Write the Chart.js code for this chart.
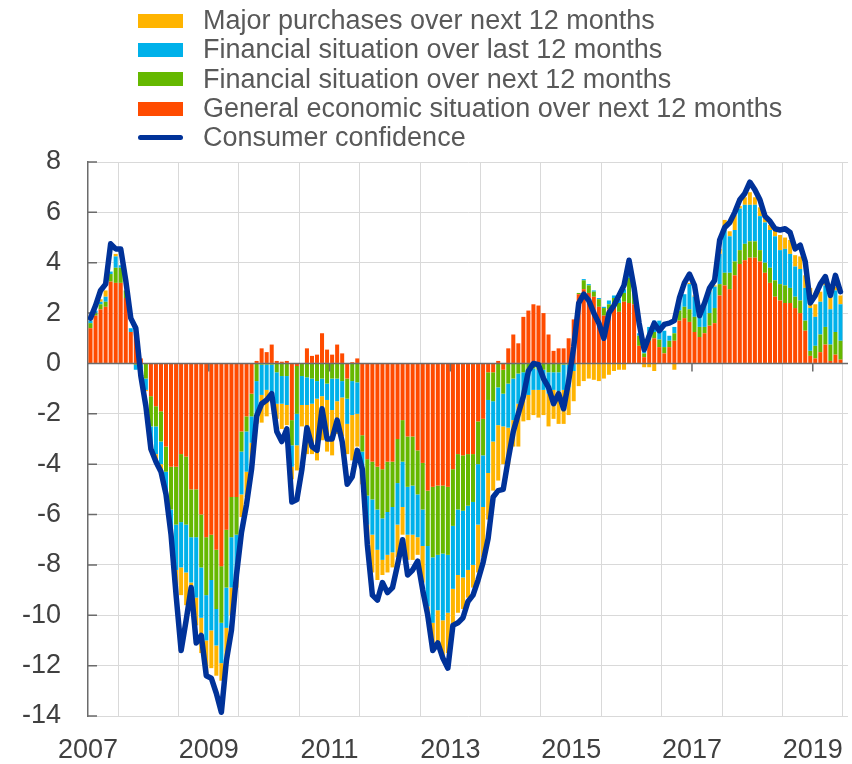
<!DOCTYPE html>
<html>
<head>
<meta charset="utf-8">
<script src="https://cdn.jsdelivr.net/npm/chart.js@4.4.1/dist/chart.umd.min.js"></script>
<style>
  html, body { margin: 0; padding: 0; background: #fff; }
  #wrap { position: relative; width: 852px; height: 764px; }
  #legend {
    position: absolute; left: 138px; top: 6px;
    font-family: "Liberation Sans", Arial, sans-serif; font-size: 27px; color: #595959;
  }
  .item { display: flex; align-items: center; height: 29.3px; white-space: nowrap; }
  .swatch { width: 45px; height: 14px; margin-right: 20px; flex: none; }
  .swatch.line { height: 5px; border-radius: 3px; }
</style>
</head>
<body>
<div id="wrap">
  <canvas id="chart" width="852" height="764"></canvas>
  <div id="legend"></div>
</div>
<script>
// monthly data, Jan 2007 - Jun 2019 (one row per year)
const firstYear = 2007;
const yearLabels = ["2007", "2009", "2011", "2013", "2015", "2017", "2019"];
const yTicks = [-14, -12, -10, -8, -6, -4, -2, 0, 2, 4, 6, 8];

const generalEcon = [
  1.4, 1.9, 2.15, 2.25, 3.25, 3.2, 3.2, 2.6, 1.25, 1.3, 0.2, 0.0,
  -1.3, -1.7, -1.9, -3.3, -4.1, -4.1, -3.6, -3.7, -5.0, -5.0, -6.0, -6.9,
  -6.8, -7.4, -8.05, -6.6, -5.3, -5.3, -2.7, -2.1, -1.2, 0.1, 0.6, 0.45,
  0.75, 0.1, 0.07, 0.1, -2.25, -0.1, 0.0, 0.6, 0.3, 0.35, 1.2, 0.55,
  0.35, 0.75, 0.4, -0.6, 0.05, 0.2, -2.85, -3.8, -3.9, -4.1, -4.2, -3.9,
  -3.9, -3.0, -2.25, -2.9, -2.9, -3.45, -3.95, -5.05, -4.9, -4.85, -4.85, -4.9,
  -4.2, -3.6, -3.65, -3.6, -3.6, -2.3, -2.2, -0.35, -0.35, 0.1, -0.25, 0.6,
  1.15, 0.8, 1.85, 2.1, 2.35, 2.3, 2.0, 1.15, 0.5, 0.6, 0.6, 1.0,
  1.75, 2.75, 2.95, 2.8, 2.65, 2.25, 1.9, 2.15, 2.25, 2.05, 2.45, 2.4,
  2.35, 0.7, 0.25, 0.9, 1.0, 0.65, 0.4, 0.65, 0.9, 1.7, 1.8, 1.65,
  1.25, 1.05, 1.2, 1.5, 1.6, 2.7, 3.1, 2.95, 3.5, 3.95, 4.1, 4.2,
  4.2, 4.05, 3.6, 3.2, 2.65, 2.5, 2.4, 2.4, 2.2, 2.0, 1.3, 0.3,
  0.2, 0.45, 0.75, 0.1, 0.35, 0.15
];

const finNext = [
  0.2, 0.1, 0.2, 0.2, 0.3, 0.6, 0.6, 0.3, 0.0, -0.05, -0.05, -0.6,
  -1.2, -0.8, -1.2, -1.0, -1.7, -2.3, -2.7, -2.7, -1.9, -1.9, -2.1, -2.3,
  -1.8, -2.35, -2.25, -2.3, -1.6, -1.5, -0.8, -0.6, -0.9, -0.7, -0.05, -0.05,
  -0.05, -0.35, -0.5, -0.5, -1.0, -1.9, -0.5, -0.55, -0.6, -0.7, -0.6, -0.8,
  -0.6, -0.6, -0.7, -0.8, -0.7, -0.75, -0.65, -1.45, -1.5, -1.7, -1.95, -2.0,
  -1.8, -1.75, -1.65, -2.0, -1.95, -1.75, -1.85, -2.2, -2.8, -2.75, -2.7, -2.7,
  -2.25, -2.2, -2.2, -2.05, -1.9, -1.7, -1.45, -1.1, -1.15, -0.95, -0.95, -0.8,
  -0.6, -0.4, -0.35, -0.25, -0.2, -0.25, -0.25, -0.35, -0.35, -0.35, -0.05, -0.05,
  0.0, 0.05, 0.35, 0.3, 0.2, 0.3, 0.3, 0.2, 0.35, 0.35, 0.35, 1.0,
  0.6, 0.4, 0.15, 0.25, 0.25, 0.3, 0.25, 0.25, 0.3, 0.4, 0.45, 0.5,
  0.6, 0.4, 0.25, 0.5, 0.6, 0.45, 0.5, 0.65, 0.55, 0.55, 0.65, 0.65,
  0.65, 0.45, 0.4, 0.6, 0.65, 0.65, 0.7, 0.6, 0.45, 0.5, 0.4, 0.2,
  0.5, 0.7, 0.7, 0.65, 0.9, 0.75
];

const finLast = [
  0.1, 0.1, 0.1, 0.2, 0.1, 0.45, 0.1, 0.0, 0.15, -0.2, -0.15, -0.45,
  -0.8, -1.1, -0.9, -0.8, -0.9, -1.8, -1.8, -1.9, -1.8, -2.4, -2.0, -1.8,
  -2.0, -1.45, -1.6, -1.6, -2.0, -1.5, -1.7, -1.6, -1.05, -1.4, -1.2, -1.0,
  -1.3, -1.25, -1.1, -1.15, -0.85, -1.25, -1.15, -1.1, -1.0, -0.7, -0.7, -0.65,
  -1.25, -0.9, -0.65, -1.0, -1.35, -1.25, -0.8, -1.15, -1.4, -1.6, -1.65, -1.7,
  -1.8, -1.65, -1.8, -1.9, -1.95, -1.7, -1.45, -2.4, -2.6, -2.2, -2.65, -2.3,
  -2.5, -2.6, -2.65, -2.55, -2.5, -2.4, -2.05, -2.9, -1.6, -1.5, -1.3, -1.75,
  -1.65, -1.2, -0.95, -1.0, -0.85, -0.8, -0.8, -0.85, -0.7, -0.75, -1.0, -0.9,
  -0.3, 0.0, 0.05, 0.05, 0.05, 0.05, 0.05, 0.15, 0.1, 0.15, 0.15, 0.3,
  0.1, 0.1, 0.1, 0.3, 0.45, 0.75, 0.65, 0.2, 0.25, 0.4, 0.5, 1.0,
  0.8, 0.8, 0.9, 0.85, 0.85, 1.2, 1.7, 1.45, 1.25, 1.65, 1.55, 1.45,
  1.45, 1.35, 1.6, 1.5, 1.75, 1.35, 1.45, 1.35, 1.2, 1.25, 1.3, 1.7,
  1.15, 1.3, 1.65, 1.4, 1.65, 1.45
];

const majorPurchases = [
  0.0, 0.0, 0.1, 0.25, 0.0, 0.1, 0.0, 0.0, 0.0, 0.2, 0.0, -0.05,
  -0.2, -0.2, -0.3, -0.3, -0.3, -0.6, -1.1, -1.3, -0.9, -1.1, -1.4, -1.3,
  -1.5, -1.2, -0.7, -1.3, -1.1, -0.6, -0.9, -1.0, -1.05, -0.3, -1.1, -1.05,
  -0.2, -0.6, -1.0, -0.8, -0.5, -1.0, -0.85, -1.95, -2.0, -2.45, -1.75, -2.05,
  -1.8, -1.3, -1.55, -1.2, -1.8, -1.3, -0.5, -0.9, -1.5, -1.2, -0.6, -0.7,
  -0.6, -1.3, -1.1, -1.0, -1.0, -0.7, -1.45, -0.45, -1.0, -1.4, -1.45, -1.6,
  -1.45, -1.5, -1.25, -1.1, -0.9, -1.9, -2.0, -1.85, -1.95, -2.2, -1.5, -1.45,
  -1.05, -1.7, -1.0, -1.0, -1.0, -1.1, -1.0, -1.3, -1.15, -1.3, -1.35, -1.1,
  -1.2, -0.9, -0.7, -0.6, -0.65, -0.7, -0.6, -0.45, -0.3, -0.25, -0.25, 0.0,
  0.0, 0.0, -0.15, -0.15, -0.3, 0.0, 0.0, 0.0, -0.25, 0.0, 0.0, 0.05,
  0.05, 0.0, 0.0, 0.05, 0.05, 0.2, 0.4, 0.2, 0.6, 0.1, 0.3, 0.5,
  0.3, 0.35, 0.3, 0.2, 0.25, 0.6, 0.45, 0.55, 0.45, 0.5, 0.5, 0.8,
  0.5, 0.4, 0.15, 0.5, 0.15, 0.35
];

const consumerConfidence = [
  1.8, 2.3, 2.9, 3.15, 4.75, 4.55, 4.55, 3.3, 1.8, 1.4, -0.5, -1.7,
  -3.4, -3.9, -4.3, -5.2, -6.8, -9.2, -11.4, -10.2, -8.9, -11.1, -10.8, -12.4,
  -12.5, -13.1, -13.85, -11.8, -10.6, -8.4, -6.7, -5.6, -4.2, -2.1, -1.6, -1.45,
  -1.2, -2.7, -3.1, -2.6, -5.5, -5.4, -4.2, -2.55, -3.3, -3.45, -1.8, -3.0,
  -3.0, -2.25, -3.1, -4.8, -4.5, -3.45, -4.2, -7.2, -9.2, -9.4, -8.7, -9.1,
  -8.9, -8.0, -7.0, -8.4, -8.2, -7.85, -9.0, -10.0, -11.4, -11.1, -11.7, -12.1,
  -10.4, -10.3, -10.1, -9.45, -9.2, -8.6, -7.9, -6.95, -5.3, -5.05, -5.0, -3.8,
  -2.7, -2.0, -1.3, -0.3, 0.0, -0.05, -0.6, -0.95, -1.6, -1.2, -1.8, -0.7,
  0.65, 2.4, 2.75, 2.5, 2.0, 1.6, 1.0, 2.0, 2.3, 2.7, 3.1, 4.1,
  3.0, 1.6, 0.55, 1.1, 1.6, 1.3, 1.55, 1.6, 1.7, 2.6, 3.2, 3.55,
  3.1, 1.9, 2.4, 3.0, 3.3, 4.9, 5.4, 5.6, 6.0, 6.5, 6.75, 7.2,
  6.9, 6.5, 5.85, 5.65, 5.35, 5.3, 5.35, 5.2, 4.55, 4.7, 4.05, 2.4,
  2.7, 3.15, 3.45, 2.7, 3.5, 2.85
];

const FONT = "'Liberation Sans', Arial, sans-serif";
const GRID = "#d9d9d9";
const AXIS = "#6b6b6b";

// month i sits in the middle of its slot
const toPoints = arr => arr.map((v, i) => ({ x: i + 0.5, y: v }));
const yearStarts = [];
for (let m = 0; m <= 144; m += 12) yearStarts.push(m);

/* ----------------------------------------
   LEGEND (html, top left)
---------------------------------------- */
const legendItems = [
  { label: "Major purchases over next 12 months", color: "#FFB400" },
  { label: "Financial situation over last 12 months", color: "#00B1EA" },
  { label: "Financial situation over next 12 months", color: "#65B800" },
  { label: "General economic situation over next 12 months", color: "#FF4B00" },
  { label: "Consumer confidence", color: "#003299", line: true }
];
const legendBox = document.getElementById("legend");
legendItems.forEach(it => {
  const row = document.createElement("div");
  row.className = "item";
  const sw = document.createElement("span");
  sw.className = it.line ? "swatch line" : "swatch";
  sw.style.background = it.color;
  const txt = document.createElement("span");
  txt.textContent = it.label;
  row.appendChild(sw);
  row.appendChild(txt);
  legendBox.appendChild(row);
});

/* ----------------------------------------
   ZERO LINE + INNER TICK MARKS
---------------------------------------- */
const axisMarks = {
  id: "axisMarks",
  beforeDatasetDraw(chart, args) {
    if (args.meta.type !== "line") return;
    const { ctx, chartArea: a, scales: { x, y } } = chart;
    const y0 = y.getPixelForValue(0);
    ctx.save();
    ctx.strokeStyle = AXIS;
    ctx.lineWidth = 1.5;
    ctx.beginPath();
    ctx.moveTo(a.left, y0);
    ctx.lineTo(a.right, y0);
    yearStarts.filter(m => m > 0 && m % 24 === 0).forEach(m => {
      const px = x.getPixelForValue(m);
      ctx.moveTo(px, y0);
      ctx.lineTo(px, y0 + 8);
    });
    yTicks.forEach(v => {
      const py = y.getPixelForValue(v);
      ctx.moveTo(a.left, py);
      ctx.lineTo(a.left + 9, py);
    });
    ctx.stroke();
    ctx.restore();
  }
};

const barSet = (label, data, color) => ({
  type: "bar",
  label: label,
  data: toPoints(data),
  backgroundColor: color,
  borderWidth: 0,
  barPercentage: 0.8,
  categoryPercentage: 1.0,
  order: 1
});

new Chart(document.getElementById("chart"), {
  type: "bar",
  data: {
    datasets: [
      barSet("General economic situation over next 12 months", generalEcon, "#FF4B00"),
      barSet("Financial situation over next 12 months", finNext, "#65B800"),
      barSet("Financial situation over last 12 months", finLast, "#00B1EA"),
      barSet("Major purchases over next 12 months", majorPurchases, "#FFB400"),
      {
        type: "line",
        label: "Consumer confidence",
        data: toPoints(consumerConfidence),
        borderColor: "#003299",
        borderWidth: 5.5,
        pointRadius: 0,
        tension: 0,
        borderJoinStyle: "round",
        borderCapStyle: "round",
        stack: "line",
        order: 0
      }
    ]
  },
  options: {
    responsive: false,
    animation: false,
    devicePixelRatio: 1,
    layout: { padding: { top: 162, right: 4, left: 0, bottom: 0 } },
    plugins: {
      legend: { display: false },
      tooltip: { enabled: false }
    },
    scales: {
      x: {
        type: "linear",
        min: 0,
        max: 151,
        offset: false,
        stacked: true,
        afterBuildTicks: s => { s.ticks = yearStarts.map(v => ({ value: v })); },
        afterFit: s => { s.height = 48; s.paddingLeft = 0; s.paddingRight = 0; },
        grid: { color: GRID, drawTicks: false },
        border: { display: false },
        ticks: {
          autoSkip: false,
          maxRotation: 0,
          padding: 18,
          color: "#404040",
          font: { family: FONT, size: 27 },
          callback: v => (v % 24 === 0 ? yearLabels[v / 24] : "")
        }
      },
      y: {
        stacked: true,
        min: -14,
        max: 8,
        afterBuildTicks: s => { s.ticks = yTicks.map(v => ({ value: v })); },
        afterFit: s => { s.width = 88; },
        grid: { color: GRID, drawTicks: false },
        border: { display: true, color: AXIS, width: 1.5 },
        ticks: {
          padding: 27,
          color: "#404040",
          font: { family: FONT, size: 27 }
        }
      }
    }
  },
  plugins: [axisMarks]
});
</script>
</body>
</html>
